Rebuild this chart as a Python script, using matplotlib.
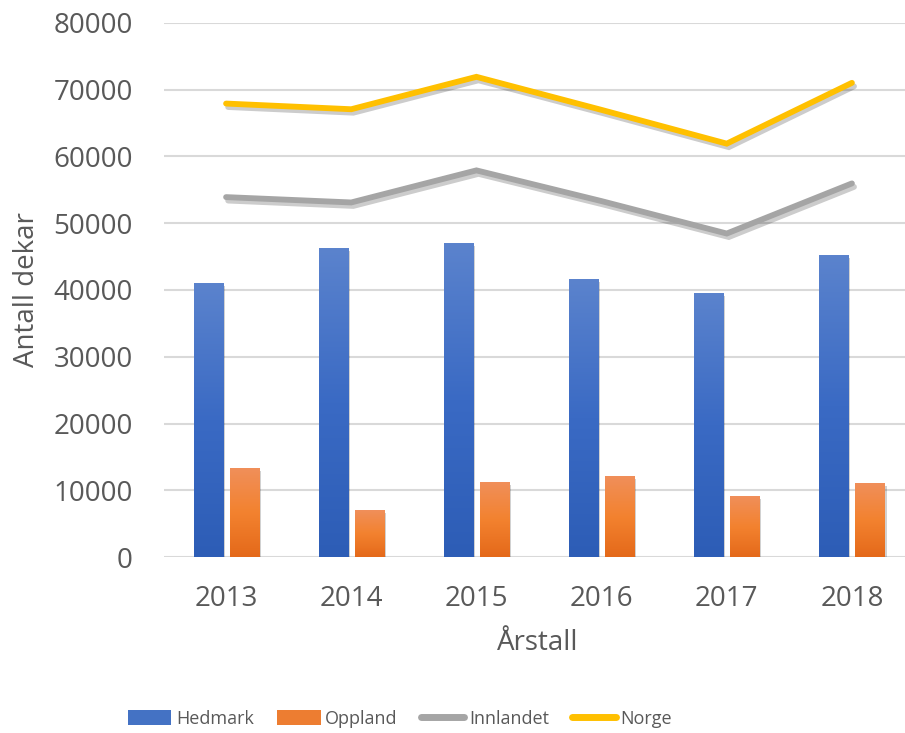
import numpy as np
import matplotlib
matplotlib.use("Agg")
import matplotlib.pyplot as plt
import matplotlib.patheffects as pe
from matplotlib.colors import LinearSegmentedColormap

years = ["2013", "2014", "2015", "2016", "2017", "2018"]
hedmark = [40900, 46100, 46900, 41500, 39400, 45100]
oppland = [13200, 6950, 11150, 12050, 9050, 11000]
innlandet = [53900, 53100, 57900, 53300, 48450, 55950]
norge = [67900, 67050, 71900, 66950, 61900, 71000]

plt.rcParams['font.family'] = ['Open Sans', 'DejaVu Sans']
txt = '#595959'

fig = plt.figure(figsize=(9.05, 7.33), dpi=100)
W, H = 905, 733
left, right, top, bottom = 163.5, 914.5, 22.7, 557.3
ax = fig.add_axes([left / W, 1 - bottom / H, (right - left) / W, (bottom - top) / H])

x = np.arange(len(years))
bw = 0.232
off = 0.144

blue_cmap = LinearSegmentedColormap.from_list('b', ['#2D5DB6', '#3A6AC4', '#5B83CD'])
orange_cmap = LinearSegmentedColormap.from_list('o', ['#E4691A', '#F3822F', '#F08F5A'])

shadow = [pe.SimplePatchShadow(offset=(1.5, -1.5), shadow_rgbFace='#000000', alpha=0.18), pe.Normal()]

grad = np.linspace(0, 1, 256).reshape(-1, 1)

hb = ax.bar(x - off, hedmark, bw, color='#3F6DC4', zorder=2, label='Hedmark')
ob = ax.bar(x + off, oppland, bw, color='#F07D2E', zorder=2, label='Oppland')
for bars, cmap in ((hb, blue_cmap), (ob, orange_cmap)):
    for b in bars:
        b.set_path_effects(shadow)
        x0 = b.get_x(); w = b.get_width(); h = b.get_height()
        ax.imshow(grad, extent=(x0, x0 + w, 0, h), origin='lower', cmap=cmap,
                  aspect='auto', zorder=2.5, interpolation='bilinear')

lshadow = [pe.SimpleLineShadow(offset=(1.5, -2.5), shadow_color='#000000', alpha=0.2), pe.Normal()]
ax.plot(x, innlandet, color='#A5A5A5', lw=4.2, solid_capstyle='round', solid_joinstyle='miter',
        zorder=3, label='Innlandet', path_effects=lshadow)
ax.plot(x, norge, color='#FFC000', lw=4.2, solid_capstyle='round', solid_joinstyle='miter',
        zorder=3, label='Norge', path_effects=lshadow)

ax.set_xlim(-0.5, len(years) - 0.5)
ax.set_ylim(0, 80000)
ax.set_yticks(np.arange(0, 80001, 10000))
ax.set_yticklabels([str(v) for v in range(0, 80001, 10000)])
ax.set_xticks(x)
ax.set_xticklabels(years)
ax.grid(axis='y', color='#D9D9D9', lw=1.5, zorder=0)
ax.set_axisbelow(True)
for s in ax.spines.values():
    s.set_visible(False)
ax.tick_params(axis='both', length=0, labelsize=20, labelcolor=txt)
ax.tick_params(axis='y', pad=22)
ax.tick_params(axis='x', pad=20)

fig.text(538 / W, 1 - 643 / H, 'Årstall', ha='center', va='center', fontsize=20, color=txt)
fig.text(27 / W, 1 - 290 / H, 'Antall dekar', ha='center', va='center', rotation=90,
         fontsize=20, color=txt)

from matplotlib.patches import Patch
from matplotlib.lines import Line2D
handles = [Patch(facecolor='#4472C4'), Patch(facecolor='#ED7D31'),
           Line2D([], [], color='#A5A5A5', lw=5, solid_capstyle='round'),
           Line2D([], [], color='#FFC000', lw=5, solid_capstyle='round')]
leg = fig.legend(handles, ['Hedmark', 'Oppland', 'Innlandet', 'Norge'], ncol=4,
                 loc='center', bbox_to_anchor=(400 / W, 1 - 719 / H), frameon=False,
                 fontsize=13, labelcolor=txt, handlelength=2.4, handleheight=0.9,
                 handletextpad=0.25, columnspacing=1.3)

fig.savefig('out.png', dpi=100)
